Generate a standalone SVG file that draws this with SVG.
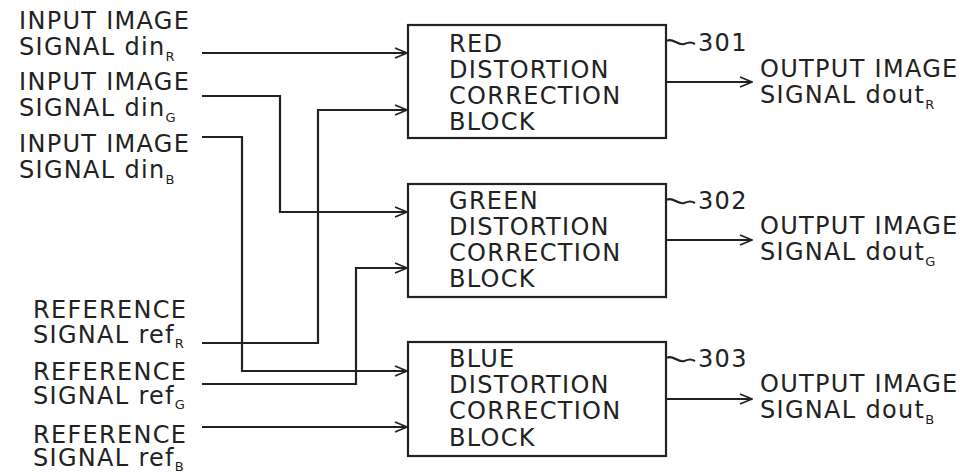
<svg xmlns="http://www.w3.org/2000/svg" width="979" height="474" viewBox="0 0 979 474">
<defs>
<style>
text{font-family:"DejaVu Sans","Liberation Sans",sans-serif;font-size:24px;fill:#222;letter-spacing:1.3px}
.sub{font-size:13px;letter-spacing:0}
.box{fill:#fff;stroke:#222;stroke-width:2.2}
.ln{fill:none;stroke:#222;stroke-width:2.2}
.ar{fill:none;stroke:#222;stroke-width:2.2;marker-end:url(#ah)}
</style>
<marker id="ah" viewBox="0 0 14 12" refX="13" refY="6" markerWidth="14" markerHeight="12" markerUnits="userSpaceOnUse" orient="auto">
<path d="M1,1 L13,6 L1,11" fill="none" stroke="#222" stroke-width="1.8"/>
</marker>
</defs>
<rect width="979" height="474" fill="#fff"/>

<g id="in-labels">
<text x="19" y="29">INPUT IMAGE</text>
<text x="19" y="55">SIGNAL din<tspan class="sub" dy="6">R</tspan></text>
<text x="19" y="90">INPUT IMAGE</text>
<text x="19" y="116">SIGNAL din<tspan class="sub" dy="6">G</tspan></text>
<text x="19" y="152">INPUT IMAGE</text>
<text x="19" y="178">SIGNAL din<tspan class="sub" dy="6">B</tspan></text>
<text x="33" y="318">REFERENCE</text>
<text x="33" y="343">SIGNAL ref<tspan class="sub" dy="5">R</tspan></text>
<text x="33" y="380">REFERENCE</text>
<text x="33" y="404">SIGNAL ref<tspan class="sub" dy="5">G</tspan></text>
<text x="33" y="443">REFERENCE</text>
<text x="33" y="466">SIGNAL ref<tspan class="sub" dy="5">B</tspan></text>
</g>

<g id="block301">
<rect class="box" x="408" y="25" width="258" height="113"/>
<text x="449" y="52">RED</text>
<text x="449" y="78">DISTORTION</text>
<text x="449" y="104">CORRECTION</text>
<text x="449" y="130">BLOCK</text>
<path class="ln" d="M667,41 C672,37 678,46 684,44 S691,42 695,44" stroke-width="1.6"/>
<text x="698" y="51">301</text>
</g>

<g id="block302">
<rect class="box" x="408" y="184" width="258" height="113"/>
<text x="449" y="209">GREEN</text>
<text x="449" y="235">DISTORTION</text>
<text x="449" y="261">CORRECTION</text>
<text x="449" y="287">BLOCK</text>
<path class="ln" d="M667,200 C672,196 678,205 684,203 S691,201 695,203" stroke-width="1.6"/>
<text x="698" y="209">302</text>
</g>

<g id="block303">
<rect class="box" x="408" y="342" width="258" height="114"/>
<text x="449" y="367">BLUE</text>
<text x="449" y="393">DISTORTION</text>
<text x="449" y="419">CORRECTION</text>
<text x="449" y="446">BLOCK</text>
<path class="ln" d="M667,358 C672,354 678,363 684,361 S691,359 695,361" stroke-width="1.6"/>
<text x="698" y="367">303</text>
</g>

<g id="out-labels">
<text x="760" y="77">OUTPUT IMAGE</text>
<text x="760" y="103">SIGNAL dout<tspan class="sub" dy="6">R</tspan></text>
<text x="760" y="234">OUTPUT IMAGE</text>
<text x="760" y="260">SIGNAL dout<tspan class="sub" dy="6">G</tspan></text>
<text x="760" y="392">OUTPUT IMAGE</text>
<text x="760" y="418">SIGNAL dout<tspan class="sub" dy="6">B</tspan></text>
</g>

<g id="connectors">
<path class="ar" d="M202,53 H407"/>
<path class="ar" d="M202,96 H280 V212 H407"/>
<path class="ar" d="M202,137 H242 V371 H407"/>
<path class="ar" d="M202,343 H318 V110 H407"/>
<path class="ar" d="M202,384 H356 V268 H407"/>
<path class="ar" d="M202,427 H407"/>
<path class="ar" d="M666,82 H752"/>
<path class="ar" d="M666,240 H752"/>
<path class="ar" d="M666,399 H752"/>
</g>
</svg>
